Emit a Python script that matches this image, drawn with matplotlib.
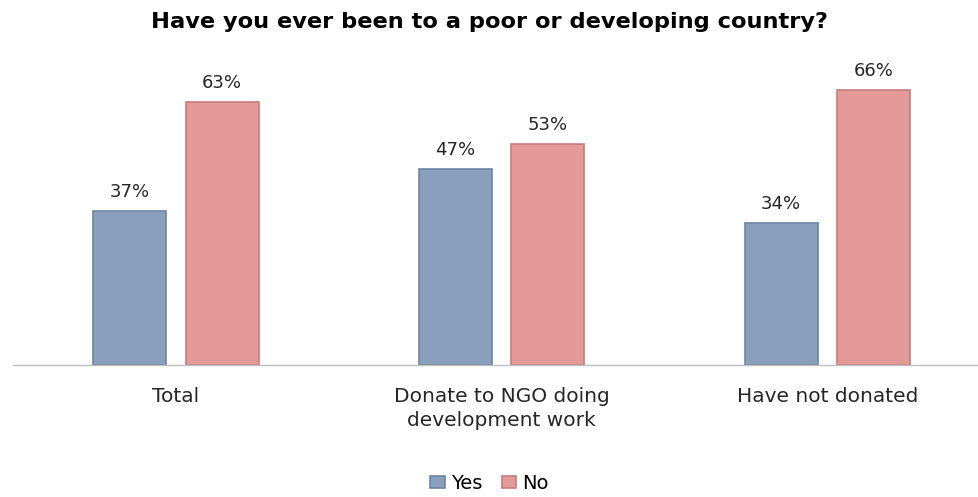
import numpy as np
import matplotlib.pyplot as plt

# chart data
categories = ["Total", "Donate to NGO doing\ndevelopment work", "Have not donated"]
yes_vals = [37, 47, 34]
no_vals = [63, 53, 66]
series_names = ["Yes", "No"]

title = "Have you ever been to a poor or developing country?"

plt.rcParams['font.family'] = ['DejaVu Sans']

fig = plt.figure(figsize=(9.79, 4.97), dpi=100)
ax = fig.add_axes([13 / 979, 132 / 497, 966 / 979, 313 / 497])

x = np.arange(len(categories))
w = 0.224
off = 0.142

b1 = ax.bar(x - off, yes_vals, w, color="#8a9fbc", edgecolor="#6e84a3", linewidth=1.2, label=series_names[0])
b2 = ax.bar(x + off, no_vals, w, color="#e39a99", edgecolor="#c77d7d", linewidth=1.2, label=series_names[1])

# value labels above bars
for bars, vals in [(b1, yes_vals), (b2, no_vals)]:
    for bar, v in zip(bars, vals):
        ax.text(bar.get_x() + bar.get_width() / 2, v + 2.4, f"{v}%",
                ha="center", va="bottom", fontsize=13, color="#262626")

ax.set_xlim(-0.5, 2.465)
ax.set_ylim(0, 75)
ax.set_xticks(x)
ax.set_xticklabels(categories, fontsize=14.5, color="#262626", linespacing=1.3)
ax.tick_params(axis="x", length=0, pad=16)
ax.set_yticks([])
for s in ["top", "right", "left"]:
    ax.spines[s].set_visible(False)
ax.spines["bottom"].set_color("#bfbfbf")
ax.spines["bottom"].set_linewidth(1)

fig.text(0.5, 0.955, title, ha="center", va="center", fontsize=16.2, fontweight="bold",
         color="#000000")

fig.legend(handles=[b1, b2], loc="center", bbox_to_anchor=(0.5, 0.028), ncol=2,
           frameon=False, fontsize=14, handlelength=0.75, handleheight=0.6,
           handletextpad=0.3, columnspacing=1.0)

fig.savefig("out.png", dpi=100)
